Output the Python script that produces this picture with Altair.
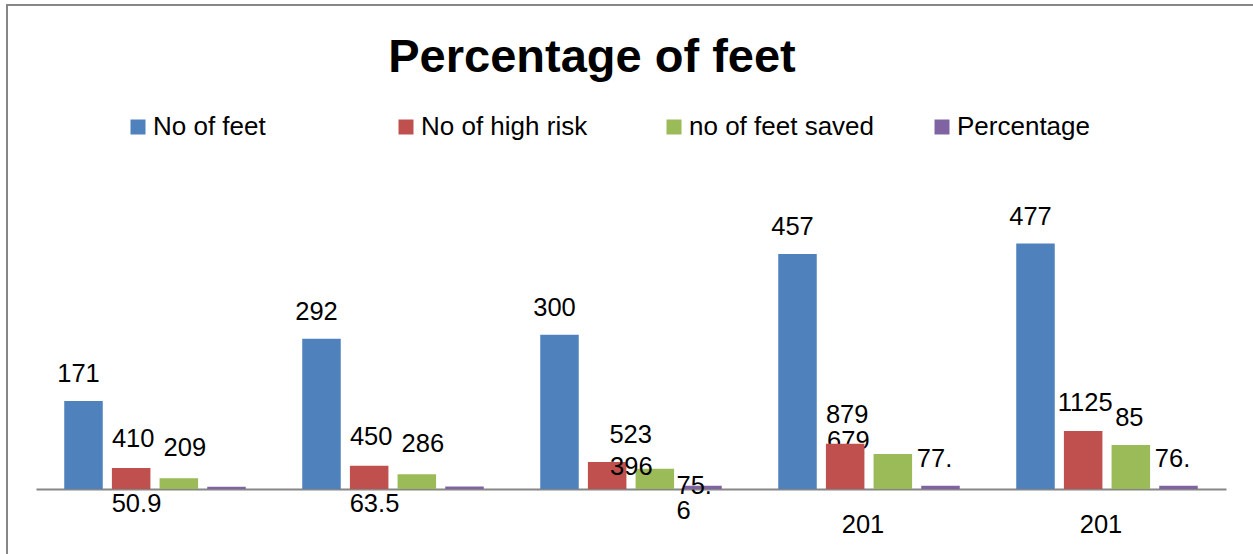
import altair as alt
import pandas as pd

FONT = "Liberation Sans"

# Category groups along the x axis and the four series drawn in each
groups = [1, 2, 3, 4, 5]
series = ["No of feet", "No of high risk", "no of feet saved", "Percentage"]
colors = ["#4F81BD", "#C0504D", "#9BBB59", "#8064A2"]

# Bar heights
no_of_feet = [171, 292, 300, 457, 477]
no_of_high_risk = [41.0, 45.0, 52.3, 87.9, 112.5]
no_of_feet_saved = [20.9, 28.6, 39.6, 67.9, 85.5]
percentage = [4.6, 4.8, 6.3, 6.5, 6.4]

# Data label text printed next to the bars
high_risk_labels = ["410", "450", "523", "879", "1125"]
feet_saved_labels = ["209", "286", "396", "679", "85"]
percentage_labels = ["", "", "75.\n6", "77.", "76."]

# Text printed under the category axis
axis_labels = ["50.9", "63.5", "", "201", "201"]

rows = []
for i, g in enumerate(groups):
    rows.append({"group": g, "series": series[0], "value": no_of_feet[i], "label": str(no_of_feet[i])})
    rows.append({"group": g, "series": series[1], "value": no_of_high_risk[i], "label": high_risk_labels[i]})
    rows.append({"group": g, "series": series[2], "value": no_of_feet_saved[i], "label": feet_saved_labels[i]})
    rows.append({"group": g, "series": series[3], "value": percentage[i], "label": percentage_labels[i]})
df = pd.DataFrame(rows)
axis_df = pd.DataFrame({"group": groups, "axis_label": axis_labels})

x_enc = alt.X(
    "group:O",
    scale=alt.Scale(paddingInner=0, paddingOuter=0),
    axis=alt.Axis(labels=False, ticks=False, title=None, grid=False,
                  domainColor="#868686", domainWidth=2),
)
xoff_enc = alt.XOffset(
    "series:N", sort=series,
    scale=alt.Scale(domain=series, paddingInner=0.192, paddingOuter=0.5925),
)
y_enc = alt.Y("value:Q", scale=alt.Scale(domain=[0, 583.1], nice=False, zero=True), axis=None)

base = alt.Chart(df)


def label_layer(cond, dx, dy, **kw):
    return base.transform_filter(cond).mark_text(
        dx=dx, dy=dy, font=FONT, fontSize=25.5, color="black", baseline="middle", **kw
    ).encode(x=x_enc, xOffset=xoff_enc, y=y_enc, text="label:N")


S = alt.datum.series
G = alt.datum.group

# label partly hidden behind the red bar of group 4
hidden_label = label_layer((S == series[2]) & (G == 4), -44.5, -13.5)

bars = base.mark_bar().encode(
    x=x_enc,
    xOffset=xoff_enc,
    y=y_enc,
    color=alt.Color(
        "series:N",
        scale=alt.Scale(domain=series, range=colors),
        legend=alt.Legend(
            title=None, orient="none", legendX=89, legendY=-75,
            direction="horizontal", columns=4, gridAlign="all", columnPadding=54,
            symbolType="square", symbolSize=225, symbolStrokeWidth=0,
            labelFont=FONT, labelFontSize=26, labelColor="black",
            labelOffset=2, labelLimit=400, padding=0,
        ),
    ),
)

feet_text = label_layer(S == series[0], -5, -27)
risk_text = label_layer((S == series[1]) & (G != 3), 2, -28.5)
risk_text_3 = label_layer((S == series[1]) & (G == 3), 23.5, -27)
saved_text = label_layer((S == series[2]) & (G <= 2), 6, -30)
saved_text_3 = label_layer((S == series[2]) & (G == 3), -23.5, -2)
saved_text_5 = label_layer((S == series[2]) & (G == 5), -1.5, -27.5)
pct_text_3 = label_layer((S == series[3]) & (G == 3), -26, 0,
                         align="left", lineBreak="\n", lineHeight=25.5)
pct_text = label_layer((S == series[3]) & (G >= 4), -6, -27)

axis_base = alt.Chart(axis_df)
axis_text_a = axis_base.transform_filter(alt.datum.group <= 2).mark_text(
    dx=-18.5, dy=15, font=FONT, fontSize=25.5, color="black", baseline="middle"
).encode(x=x_enc, y=alt.datum(0), text="axis_label:N")
axis_text_b = axis_base.transform_filter(alt.datum.group >= 4).mark_text(
    dx=-6, dy=36, font=FONT, fontSize=25.5, color="black", baseline="middle"
).encode(x=x_enc, y=alt.datum(0), text="axis_label:N")

# outer chart border
frame = alt.Chart(pd.DataFrame({"f": [0]})).mark_rect(
    fillOpacity=0, stroke="#868686", strokeWidth=2
).encode(x=alt.value(-29), y=alt.value(-184), x2=alt.value(1400), y2=alt.value(700))

chart = alt.layer(
    frame, hidden_label, bars, feet_text, risk_text, risk_text_3, saved_text,
    saved_text_3, saved_text_5, pct_text_3, pct_text, axis_text_a, axis_text_b,
).properties(
    width=1190,
    height=300,
    title=alt.TitleParams(
        "Percentage of feet", font=FONT, fontSize=47, fontWeight="bold",
        color="black", anchor="middle", dx=-39, offset=-78,
    ),
    autosize=alt.AutoSizeParams(type="none"),
    padding={"left": 36, "top": 189, "right": 27, "bottom": 65},
).configure(
    background="white",
    view=alt.ViewConfig(strokeWidth=0, stroke="transparent"),
)

chart.save("out.html", embed_options={"renderer": "svg", "actions": False})
